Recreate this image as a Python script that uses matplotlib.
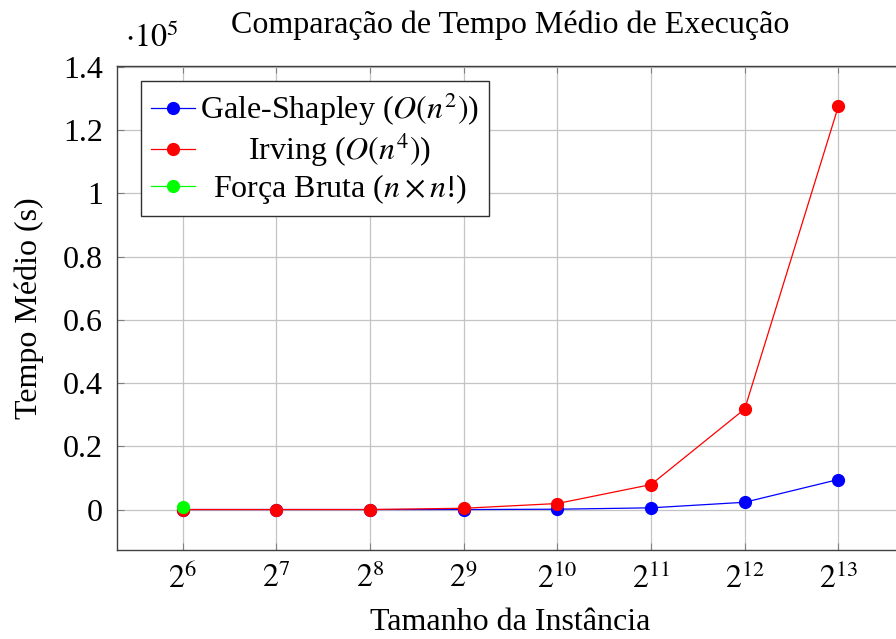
import matplotlib
matplotlib.use("Agg")
import matplotlib.pyplot as plt
from matplotlib.ticker import FixedLocator, FuncFormatter

plt.rcParams['font.family'] = ['Liberation Serif', 'DejaVu Serif']
plt.rcParams['mathtext.fontset'] = 'stix'

# Data
sizes = [64, 128, 256, 512, 1024, 2048, 4096, 8192]
size_labels = [r'$2^{6}$', r'$2^{7}$', r'$2^{8}$', r'$2^{9}$',
               r'$2^{10}$', r'$2^{11}$', r'$2^{12}$', r'$2^{13}$']
gale_shapley = [0, 0, 0, 0, 100, 540, 2300, 9500]
irving = [0, 0, 0, 400, 1900, 7900, 31800, 127600]
brute_sizes = [64]
brute_force = [700]
yticks = [0, 20000, 40000, 60000, 80000, 100000, 120000, 140000]

labels = [r'Gale-Shapley ($O(n^2)$)', r'Irving ($O(n^4)$)', r'Força Bruta ($n \times n$!)']

W, H = 896, 639
fig = plt.figure(figsize=(W / 100, H / 100), dpi=100)
left, right, top, bottom = 117, 904, 66, 550
ax = fig.add_axes([left / W, (H - bottom) / H, (right - left) / W, (bottom - top) / H])

fs = 23
lw = 0.9
ms = 8.5
ax.plot(sizes, gale_shapley, color='#0000ff', lw=lw, marker='o', ms=ms, label=labels[0], zorder=3)
ax.plot(sizes, irving, color='#ff0000', lw=lw, marker='o', ms=ms, label=labels[1], zorder=4)
ax.plot(brute_sizes, brute_force, color='#00ff00', lw=lw, marker='o', ms=ms, label=labels[2], zorder=5)

ax.set_xscale('log', base=2)
ax.set_xlim(2 ** 5.3, 2 ** 13.7)
ax.set_ylim(-0.128e5, 1.403e5)
ax.xaxis.set_major_locator(FixedLocator(sizes))
ax.xaxis.set_minor_locator(FixedLocator([]))
ax.set_xticklabels(size_labels)
ax.yaxis.set_major_locator(FixedLocator(yticks))
ax.yaxis.set_major_formatter(FuncFormatter(lambda v, p: ('%g' % round(v / 1e5, 2))))

ax.grid(True, color='#c4c4c4', lw=0.9)
ax.set_axisbelow(True)
for s in ax.spines.values():
    s.set_color('#404040')
    s.set_linewidth(1.0)
ax.tick_params(direction='in', length=5, width=0.8, color='#808080',
               top=True, right=True, labelsize=fs, pad=10)

ax.set_xlabel('Tamanho da Instância', fontsize=fs, labelpad=9)
ax.set_ylabel('Tempo Médio (s)', fontsize=fs, labelpad=14)
ax.set_title('Comparação de Tempo Médio de Execução', fontsize=fs, pad=24)
ax.text(0.01, 1.025, r'$\cdot 10^{5}$', transform=ax.transAxes, fontsize=fs,
        ha='left', va='bottom')

leg = ax.legend(loc='upper left', bbox_to_anchor=(0.0305, 0.969), borderaxespad=0,
                fontsize=fs, frameon=True, fancybox=False, framealpha=1,
                edgecolor='#303030', handlelength=1.4, handletextpad=0.15,
                labelspacing=0.1, borderpad=0.3)
leg.get_frame().set_linewidth(1.0)

# center legend texts like pgfplots
fig.canvas.draw()
r = fig.canvas.get_renderer()
texts = leg.get_texts()
widths = [t.get_window_extent(r).width for t in texts]
mw = max(widths)
for t, w in zip(texts, widths):
    t.set_position(((mw - w) / 2, 0))

fig.savefig('out.png', dpi=100)
